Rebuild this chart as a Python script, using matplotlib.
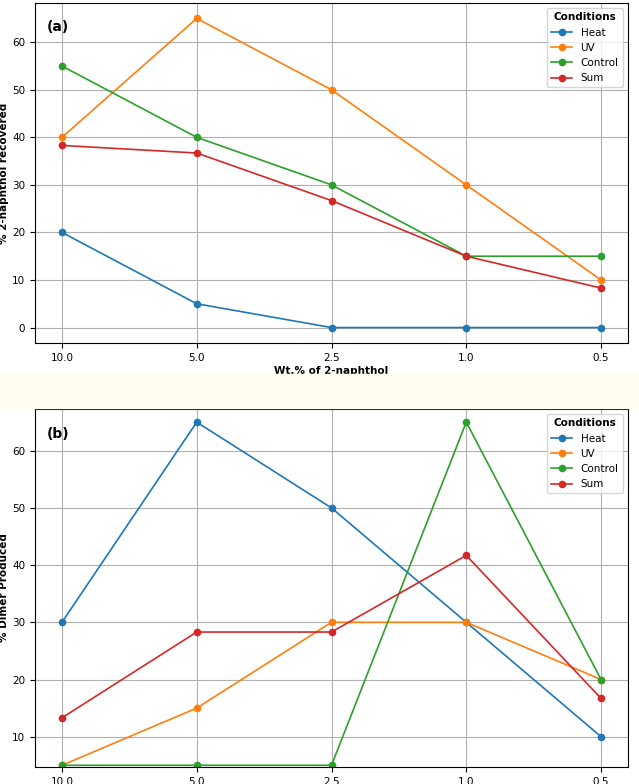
import matplotlib.pyplot as plt
from matplotlib.patches import Rectangle

plt.rcParams['font.size'] = 7.5

wt_labels = ['10.0', '5.0', '2.5', '1.0', '0.5']
conditions = ['Heat', 'UV', 'Control', 'Sum']
colors = ['#1f77b4', '#ff7f0e', '#2ca02c', '#d62728']

recovered = {
    'Heat': [20, 5, 0, 0, 0],
    'UV': [40, 65, 50, 30, 10],
    'Control': [55, 40, 30, 15, 15],
    'Sum': [38.3, 36.7, 26.7, 15, 8.3],
}
dimer = {
    'Heat': [30, 65, 50, 30, 10],
    'UV': [5, 15, 30, 30, 20],
    'Control': [5, 5, 5, 65, 20],
    'Sum': [13.3, 28.3, 28.3, 41.7, 16.7],
}

fig = plt.figure(figsize=(6.39, 7.84), dpi=100)
# pale strip between the two panels
fig.patches.append(Rectangle((0, 1 - 408 / 784), 1, 34 / 784, transform=fig.transFigure,
                             color='#fffdf0', zorder=0))

ax1 = fig.add_axes([35 / 639, 1 - 343 / 784, 593 / 639, 340 / 784])
ax2 = fig.add_axes([35 / 639, 1 - 767 / 784, 593 / 639, 358 / 784])

x = range(len(wt_labels))
for ax, data, ylabel, tag in [(ax1, recovered, '% 2-naphthol recovered', '(a)'),
                              (ax2, dimer, '% Dimer Produced', '(b)')]:
    for c, col in zip(conditions, colors):
        ax.plot(x, data[c], marker='o', markersize=4.5, linewidth=1.2, color=col, label=c)
    ax.set_xticks(list(x))
    ax.set_xticklabels(wt_labels)
    ax.set_xlabel('Wt.% of 2-naphthol', fontweight='bold', labelpad=2)
    ax.set_ylabel(ylabel, fontweight='bold', labelpad=2)
    ax.grid(True)
    ax.text(0.02, 0.95, tag, transform=ax.transAxes, fontsize=10, fontweight='bold', va='top')
    leg = ax.legend(title='Conditions', loc='upper right')
    leg.get_title().set_fontweight('bold')

ax2.set_ylim(4.7, 67.3)

fig.savefig('out.png', dpi=100)
